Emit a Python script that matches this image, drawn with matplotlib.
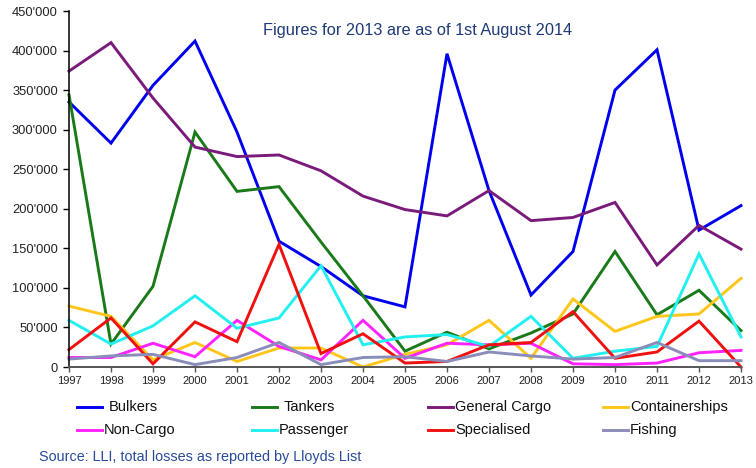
import matplotlib
matplotlib.use("Agg")
import matplotlib.pyplot as plt
from matplotlib.lines import Line2D
from matplotlib.ticker import FuncFormatter, MultipleLocator

plt.rcParams['font.family'] = ['Liberation Sans', 'DejaVu Sans']

years = [1997, 1998, 1999, 2000, 2001, 2002, 2003, 2004, 2005,
         2006, 2007, 2008, 2009, 2010, 2011, 2012, 2013]

# values in thousands of GT
bulkers = [335, 283, 356, 412, 297, 159, 127, 90, 76, 396, 223, 91, 146, 350, 401, 173, 204]
tankers = [344, 29, 102, 297, 222, 228, 158, 90, 20, 44, 23, 43, 67, 146, 66, 97, 46]
general_cargo = [374, 410, 340, 278, 266, 268, 248, 216, 199, 191, 223, 185, 189, 208, 129, 179, 149]
containerships = [77, 64, 9, 31, 7, 24, 24, 0, 16, 28, 59, 11, 86, 45, 64, 67, 112]
non_cargo = [12, 12, 30, 13, 59, 26, 9, 59, 11, 30, 28, 30, 4, 3, 5, 18, 21]
passenger = [59, 29, 52, 90, 49, 62, 128, 28, 38, 41, 26, 64, 11, 20, 26, 143, 38]
specialised = [22, 62, 4, 57, 32, 155, 17, 42, 5, 7, 28, 31, 70, 11, 19, 58, 0]
fishing = [10, 14, 16, 3, 12, 31, 3, 12, 13, 7, 19, 14, 10, 12, 31, 8, 8]

series_names = ["Bulkers", "Tankers", "General Cargo", "Containerships",
                "Non-Cargo", "Passenger", "Specialised", "Fishing"]
series_values = [bulkers, tankers, general_cargo, containerships,
                 non_cargo, passenger, specialised, fishing]
series_colors = ["#0000F0", "#1A7A1A", "#7A1A7A", "#FFC61A",
                 "#FF22FF", "#22F0F0", "#F01010", "#8A8CBA"]

title = "Figures for 2013 are as of 1st August 2014"
source = "Source: LLI, total losses as reported by Lloyds List"

fig = plt.figure(figsize=(7.56, 4.68), dpi=100)
ax = fig.add_axes([69/756, 1 - 367/468, (741 - 69)/756, (367 - 11)/468])

lines = []
for name, vals, col in zip(series_names, series_values, series_colors):
    (ln,) = ax.plot(years, [v * 1000 for v in vals], color=col, lw=2.1,
                    label=name, clip_on=False, solid_joinstyle='miter')
    lines.append(ln)

ax.set_xlim(years[0], years[-1])
ax.set_ylim(0, 450000)
ax.yaxis.set_major_locator(MultipleLocator(50000))
ax.set_xticks(years)


def fmt(v, pos):
    v = int(round(v))
    if v == 0:
        return "0"
    return f"{v // 1000}'{v % 1000:03d}"


ax.yaxis.set_major_formatter(FuncFormatter(fmt))
ax.tick_params(axis='y', labelsize=9.3, length=4, width=1.0, pad=4,
               colors='black', labelcolor='#222222')
ax.tick_params(axis='x', labelsize=8, length=3.5, width=1.0, pad=3,
               colors='#555555', labelcolor='#222222')

for s in ['top', 'right']:
    ax.spines[s].set_visible(False)
ax.spines['left'].set_color('black')
ax.spines['left'].set_linewidth(1.1)
ax.spines['bottom'].set_color('#555555')
ax.spines['bottom'].set_linewidth(1.4)

fig.text(418/756, 1 - 31/468, title, ha='center', va='center',
         fontsize=11.8, color='#1F3A78')

# legend: four columns, two rows
col_x = [77, 252, 428, 603]
row_y = [407, 430]
order = [[0, 4], [1, 5], [2, 6], [3, 7]]
for ci, idxs in enumerate(order):
    for ri, idx in enumerate(idxs):
        x0 = col_x[ci]
        y = 1 - row_y[ri] / 468
        fig.add_artist(Line2D([x0/756, (x0 + 25)/756], [y, y],
                              color=lines[idx].get_color(), lw=2.1,
                              transform=fig.transFigure))
        gap = 7 if (ri == 0 and ci < 2) else 2
        fig.text((x0 + 25 + gap)/756, y, series_names[idx], ha='left',
                 va='center', fontsize=10.5, color='#111111')

fig.text(39/756, 1 - 457/468, source, ha='left', va='center',
         fontsize=10.4, color='#2A4B9B')

fig.savefig("out.png", dpi=100)
